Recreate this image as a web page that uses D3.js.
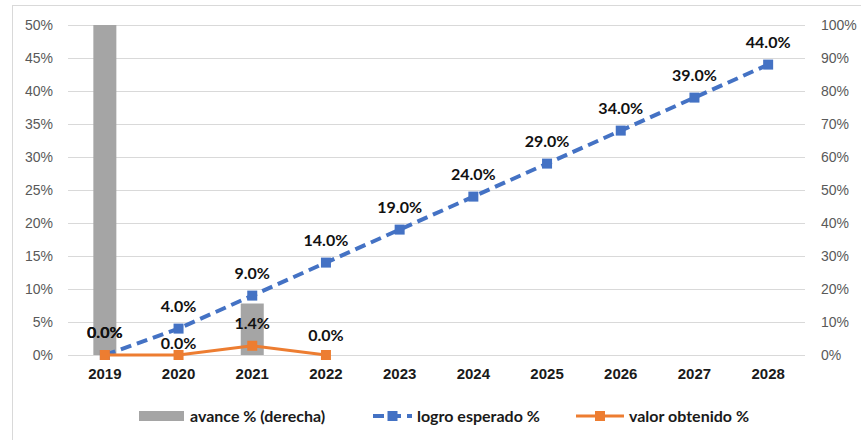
<!DOCTYPE html>
<html>
<head>
<meta charset="utf-8">
<script src="https://cdn.jsdelivr.net/npm/d3@7"></script>
<style>
  body { margin: 0; background: #fff; }
  svg { display: block; font-family: Lato, "Open Sans", sans-serif; }
</style>
</head>
<body>
<svg id="chart"></svg>
<script>
// chart data
var years = ["2019", "2020", "2021", "2022", "2023", "2024", "2025", "2026", "2027", "2028"];
var avance = [1.0, 0, 0.156, 0];                 // right axis, bars
var logroEsperado = [0, 0.04, 0.09, 0.14, 0.19, 0.24, 0.29, 0.34, 0.39, 0.44];
var valorObtenido = [0, 0, 0.014, 0];
var leftTicks = [0, 0.05, 0.10, 0.15, 0.20, 0.25, 0.30, 0.35, 0.40, 0.45, 0.50];
var rightTicks = [0, 0.1, 0.2, 0.3, 0.4, 0.5, 0.6, 0.7, 0.8, 0.9, 1.0];

var width = 861, height = 440;
var margin = { top: 25, right: 56, bottom: 85, left: 68 };
var innerW = width - margin.left - margin.right;
var innerH = height - margin.top - margin.bottom;

var svg = d3.select("#chart").attr("width", width).attr("height", height);

// outer frame
svg.append("rect")
  .attr("x", 12.5).attr("y", 5.5)
  .attr("width", width).attr("height", height)
  .attr("fill", "none").attr("stroke", "#d9d9d9");

var g = svg.append("g").attr("transform", "translate(" + margin.left + "," + margin.top + ")");

var x = d3.scaleBand().domain(years).range([0, innerW]);
var yL = d3.scaleLinear().domain([0, 0.5]).range([innerH, 0]);
var yR = d3.scaleLinear().domain([0, 1]).range([innerH, 0]);
var cx = d => x(d) + x.bandwidth() / 2;

// grid lines
g.selectAll(".grid").data(leftTicks).enter().append("line")
  .attr("x1", 0).attr("x2", innerW)
  .attr("y1", d => Math.round(yL(d)) + 0.5).attr("y2", d => Math.round(yL(d)) + 0.5)
  .attr("stroke", "#d9d9d9").attr("stroke-width", 1);

// left axis
var leftAxis = g.append("g")
  .call(d3.axisLeft(yL).tickValues(leftTicks).tickFormat(d3.format(".0%")).tickSize(0).tickPadding(15));
leftAxis.select(".domain").remove();
leftAxis.selectAll("text").attr("fill", "#595959").style("font-size", "14px");

// right axis
var rightAxis = g.append("g").attr("transform", "translate(" + innerW + ",0)")
  .call(d3.axisRight(yR).tickValues(rightTicks).tickFormat(d3.format(".0%")).tickSize(0).tickPadding(16));
rightAxis.select(".domain").remove();
rightAxis.selectAll("text").attr("fill", "#595959").style("font-size", "14px");

// x axis
var xAxis = g.append("g").attr("transform", "translate(0," + innerH + ")")
  .call(d3.axisBottom(x).tickSize(0).tickPadding(13));
xAxis.select(".domain").remove();
xAxis.selectAll("text").attr("fill", "#1a1a1a").style("font-size", "15px").style("font-weight", "bold");

// bars (right axis)
var barW = 23;
g.selectAll(".bar").data(avance).enter().append("rect")
  .attr("x", (d, i) => cx(years[i]) - barW / 2)
  .attr("y", d => yR(d))
  .attr("width", barW)
  .attr("height", d => innerH - yR(d))
  .attr("fill", "#a5a5a5");

// logro esperado line
var blue = "#4472c4", orange = "#ed7d31";
var line = d3.line().x(d => cx(d.year)).y(d => yL(d.v));
var logroPts = logroEsperado.map((v, i) => ({ year: years[i], v: v }));
var valorPts = valorObtenido.map((v, i) => ({ year: years[i], v: v }));

g.append("path").datum(logroPts)
  .attr("d", line).attr("fill", "none")
  .attr("stroke", blue).attr("stroke-width", 4).attr("stroke-dasharray", "11,6");
g.selectAll(".mb").data(logroPts).enter().append("rect")
  .attr("x", d => cx(d.year) - 5).attr("y", d => yL(d.v) - 5)
  .attr("width", 10).attr("height", 10).attr("fill", blue);

g.append("path").datum(valorPts)
  .attr("d", line).attr("fill", "none")
  .attr("stroke", orange).attr("stroke-width", 3);
g.selectAll(".mo").data(valorPts).enter().append("rect")
  .attr("x", d => cx(d.year) - 5).attr("y", d => yL(d.v) - 5)
  .attr("width", 10).attr("height", 10).attr("fill", orange);

// data labels
var fmt = d3.format(".1%");
g.selectAll(".lb").data(logroPts).enter().append("text")
  .attr("x", d => cx(d.year)).attr("y", d => yL(d.v) - 17)
  .attr("text-anchor", "middle")
  .style("font-size", "16px").style("font-weight", "bold").attr("fill", "#111")
  .text(d => fmt(d.v));

// orange labels sit lower where they would clash with the blue ones
var orangeDy = [-17, -6, -17, -14];
g.selectAll(".lo").data(valorPts).enter().append("text")
  .attr("x", d => cx(d.year)).attr("y", (d, i) => yL(d.v) + orangeDy[i])
  .attr("text-anchor", "middle")
  .style("font-size", "16px").style("font-weight", "bold").attr("fill", "#111")
  .text(d => fmt(d.v));

// legend
var legend = svg.append("g").attr("transform", "translate(0,416)");
legend.append("rect").attr("x", 139).attr("y", -5).attr("width", 45).attr("height", 10).attr("fill", "#a5a5a5");
legend.append("text").attr("x", 190).attr("y", 5.5).text("avance % (derecha)");

legend.append("line").attr("x1", 373).attr("x2", 412).attr("y1", 0).attr("y2", 0)
  .attr("stroke", blue).attr("stroke-width", 4).attr("stroke-dasharray", "11,6");
legend.append("rect").attr("x", 387.5).attr("y", -5).attr("width", 10).attr("height", 10).attr("fill", blue);
legend.append("text").attr("x", 417).attr("y", 5.5).text("logro esperado %");

legend.append("line").attr("x1", 576).attr("x2", 624).attr("y1", 0).attr("y2", 0)
  .attr("stroke", orange).attr("stroke-width", 3);
legend.append("rect").attr("x", 595).attr("y", -5).attr("width", 10).attr("height", 10).attr("fill", orange);
legend.append("text").attr("x", 629).attr("y", 5.5).text("valor obtenido %");

legend.selectAll("text").style("font-size", "16px").style("font-weight", "bold").attr("fill", "#1a1a1a");
</script>
</body>
</html>
